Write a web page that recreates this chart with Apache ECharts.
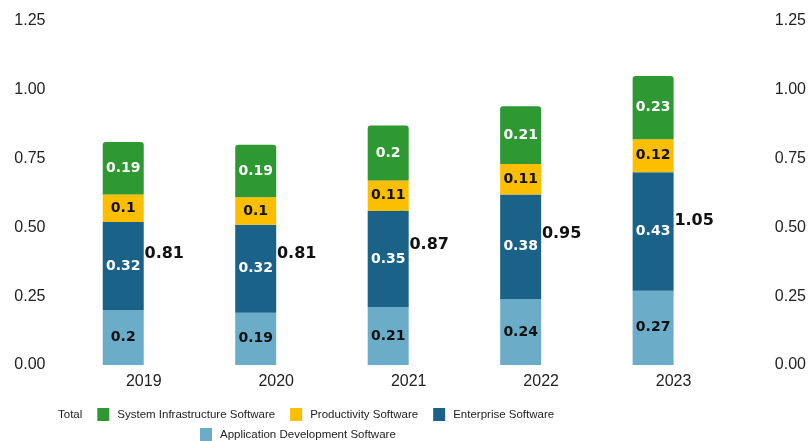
<!DOCTYPE html>
<html>
<head>
<meta charset="utf-8">
<style>
  html, body { margin: 0; padding: 0; background: #fff; }
  #chart { width: 809px; height: 441px; }
</style>
<script src="https://cdn.jsdelivr.net/npm/echarts@6/dist/echarts.min.js"></script>
</head>
<body>
<div id="chart"></div>
<script>
// data
var years = ["2019", "2020", "2021", "2022", "2023"];
var appDev = [0.2, 0.19, 0.21, 0.24, 0.27];
var enterprise = [0.32, 0.32, 0.35, 0.38, 0.43];
var productivity = [0.1, 0.1, 0.11, 0.11, 0.12];
var sysInfra = [0.19, 0.19, 0.2, 0.21, 0.23];
var totals = [0.81, 0.81, 0.87, 0.95, 1.05];
var yTicks = [0, 0.25, 0.5, 0.75, 1, 1.25];

var chart = echarts.init(document.getElementById("chart"));

function stackLabel(color) {
  return {
    show: true,
    position: "inside",
    color: color,
    fontFamily: "DejaVu Sans",
    fontWeight: "bold",
    fontSize: 14,
  };
}

var axisFont = { fontFamily: "Liberation Sans, Arial, sans-serif", fontSize: 16, color: "#222" };
var legendText = {
  fontFamily: "Liberation Sans, Arial, sans-serif",
  fontSize: 11.5,
  color: "#222",
  padding: [0, 0, 0, 3],
};

function yAxis(pos, margin) {
  return {
    type: "value",
    position: pos,
    min: yTicks[0],
    max: yTicks[yTicks.length - 1],
    interval: 0.25,
    splitLine: { show: false },
    axisLine: { show: false },
    axisTick: { show: false },
    axisLabel: Object.assign({ margin: margin, formatter: function (v) { return v.toFixed(2); } }, axisFont),
  };
}

chart.setOption({
  animation: false,
  grid: { left: 77.5, right: 66.5, top: 21, bottom: 76 },
  legend: [
    {
      left: 33,
      top: 403,
      itemWidth: 12,
      itemHeight: 13,
      itemGap: 15,
      icon: "rect",
      textStyle: legendText,
      data: ["Total", "System Infrastructure Software", "Productivity Software", "Enterprise Software"],
    },
    {
      left: 195,
      top: 423,
      itemWidth: 12,
      itemHeight: 13,
      icon: "rect",
      textStyle: legendText,
      data: ["Application Development Software"],
    },
  ],
  xAxis: {
    type: "category",
    data: years,
    axisLine: { show: false },
    axisTick: { show: false },
    axisLabel: Object.assign({ margin: 9 }, axisFont),
  },
  yAxis: [yAxis("left", 32), yAxis("right", 35)],
  series: [
    {
      name: "Application Development Software",
      type: "bar",
      stack: "sw",
      barWidth: 41,
      barGap: "0%",
      data: appDev,
      itemStyle: { color: "#6badc9" },
      label: stackLabel("#111"),
    },
    {
      name: "Enterprise Software",
      type: "bar",
      stack: "sw",
      data: enterprise,
      itemStyle: { color: "#1b6289" },
      label: stackLabel("#fff"),
    },
    {
      name: "Productivity Software",
      type: "bar",
      stack: "sw",
      data: productivity,
      itemStyle: { color: "#fbbf00" },
      label: stackLabel("#111"),
    },
    {
      name: "System Infrastructure Software",
      type: "bar",
      stack: "sw",
      data: sysInfra,
      itemStyle: { color: "#2e9833", borderRadius: [3, 3, 0, 0] },
      label: stackLabel("#fff"),
    },
    {
      // invisible bar next to the stack, only for the total label
      name: "Total",
      type: "bar",
      barWidth: 41,
      data: totals,
      itemStyle: { color: "rgba(0,0,0,0)" },
      label: {
        show: true,
        position: "inside",
        color: "#111",
        fontFamily: "DejaVu Sans",
        fontWeight: "bold",
        fontSize: 16,
      },
    },
  ],
});
</script>
</body>
</html>
